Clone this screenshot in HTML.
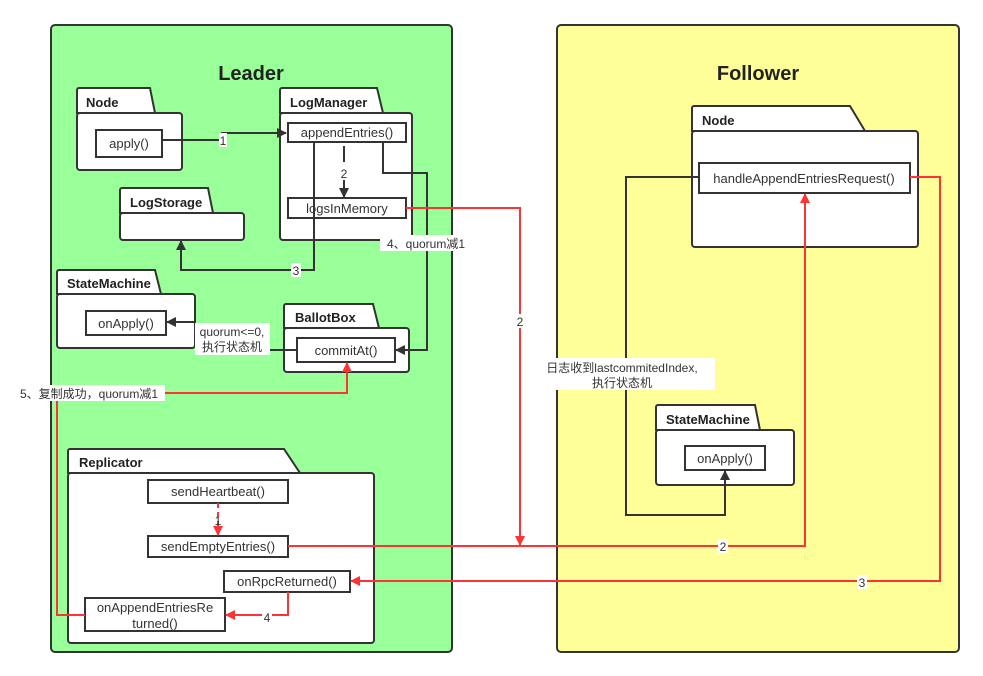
<!DOCTYPE html>
<html><head><meta charset="utf-8"><style>
html,body{margin:0;padding:0;background:#fff;}
svg{display:block;font-family:"Liberation Sans","Noto Sans CJK SC",sans-serif;}
</style></head><body>
<svg width="983" height="676" viewBox="0 0 983 676" xmlns="http://www.w3.org/2000/svg">
<defs>
<marker id="ab" markerWidth="10" markerHeight="10" refX="9" refY="5" orient="auto" markerUnits="userSpaceOnUse"><path d="M0,0 L10,5 L0,10 z" fill="#333"/></marker>
<marker id="ar" markerWidth="10" markerHeight="10" refX="9" refY="5" orient="auto" markerUnits="userSpaceOnUse"><path d="M0,0 L10,5 L0,10 z" fill="#ff3333"/></marker>
</defs>
<rect x="51" y="25" width="401" height="627" rx="4" fill="#99ff99" stroke="#333" stroke-width="2"/>
<rect x="557" y="25" width="402" height="627" rx="4" fill="#ffff99" stroke="#333" stroke-width="2"/>
<text x="251" y="80" font-size="20" font-weight="bold" fill="#222" text-anchor="middle">Leader</text>
<text x="758" y="80" font-size="20" font-weight="bold" fill="#222" text-anchor="middle">Follower</text>

<g fill="#fff" stroke="#333" stroke-width="2">
<!-- Node -->
<path d="M77,113 V90 a2,2 0 0 1 2,-2 H150 L155,113 Z"/><rect x="77" y="113" width="105" height="57" rx="3"/>
<!-- LogManager -->
<path d="M280,113 V90 a2,2 0 0 1 2,-2 H377 L383,113 Z"/><rect x="280" y="113" width="132" height="127" rx="3"/>
<!-- LogStorage -->
<path d="M120,213 V190 a2,2 0 0 1 2,-2 H208 L213,213 Z"/><rect x="120" y="213" width="124" height="27" rx="3"/>
<!-- StateMachine -->
<path d="M57,294 V272 a2,2 0 0 1 2,-2 H155 L161,294 Z"/><rect x="57" y="294" width="138" height="54" rx="3"/>
<!-- BallotBox -->
<path d="M284,328 V306 a2,2 0 0 1 2,-2 H373 L379,328 Z"/><rect x="284" y="328" width="125" height="44" rx="3"/>
<!-- Replicator -->
<path d="M68,473 V451 a2,2 0 0 1 2,-2 H284 L300,473 Z"/><rect x="68" y="473" width="306" height="170" rx="3"/>
<!-- Follower Node -->
<path d="M692,131 V108 a2,2 0 0 1 2,-2 H850 L865,131 Z"/><rect x="692" y="131" width="226" height="116" rx="3"/>
<!-- Follower SM -->
<path d="M656,430 V407 a2,2 0 0 1 2,-2 H755 L760,430 Z"/><rect x="656" y="430" width="138" height="55" rx="3"/>
<!-- method boxes -->
<rect x="96" y="130" width="66" height="27"/>
<rect x="288" y="123" width="118" height="19"/>
<rect x="288" y="198" width="118" height="20"/>
<rect x="86" y="311" width="80" height="24"/>
<rect x="297" y="338" width="98" height="24"/>
<rect x="148" y="480" width="140" height="23"/>
<rect x="148" y="536" width="140" height="21"/>
<rect x="224" y="571" width="126" height="21"/>
<rect x="85" y="598" width="140" height="33"/>
<rect x="699" y="163" width="211" height="30"/>
<rect x="685" y="446" width="80" height="24"/>
</g>

<g font-size="13" font-weight="bold" fill="#222">
<text x="86" y="107">Node</text>
<text x="290" y="107">LogManager</text>
<text x="130" y="207">LogStorage</text>
<text x="67" y="288">StateMachine</text>
<text x="295" y="322">BallotBox</text>
<text x="79" y="467">Replicator</text>
<text x="702" y="125">Node</text>
<text x="666" y="424">StateMachine</text>
</g>
<g font-size="13" fill="#333" text-anchor="middle">
<text x="129" y="148">apply()</text>
<text x="347" y="137">appendEntries()</text>
<text x="347" y="213">logsInMemory</text>
<text x="126" y="328">onApply()</text>
<text x="346" y="355">commitAt()</text>
<text x="218" y="496">sendHeartbeat()</text>
<text x="218" y="551">sendEmptyEntries()</text>
<text x="287" y="586">onRpcReturned()</text>
<text x="155" y="612">onAppendEntriesRe</text>
<text x="155" y="628">turned()</text>
<text x="804" y="183">handleAppendEntriesRequest()</text>
<text x="725" y="463">onApply()</text>
</g>

<!-- black connectors -->
<g fill="none" stroke="#333" stroke-width="2">
<polyline points="162,140 222,140 222,133 286,133" marker-end="url(#ab)"/>
<polyline points="344,146 344,162"/>
<polyline points="344,180 344,197" marker-end="url(#ab)"/>
<polyline points="314,143 314,270 181,270 181,241" marker-end="url(#ab)"/>
<polyline points="383,143 383,173 427,173 427,350 396,350" marker-end="url(#ab)"/>
<polyline points="297,350 265,350"/>
<polyline points="196,322 167,322" marker-end="url(#ab)"/>
<polyline points="699,177 626,177 626,515 725,515 725,471" marker-end="url(#ab)"/>
</g>
<!-- red connectors -->
<g fill="none" stroke="#ff3333" stroke-width="2">
<polyline points="406,208 520,208 520,545" marker-end="url(#ar)"/>
<polyline points="288,546 805,546 805,194" marker-end="url(#ar)"/>
<polyline points="910,177 940,177 940,581 351,581" marker-end="url(#ar)"/>
<polyline points="288,592 288,615 226,615" marker-end="url(#ar)"/>
<polyline points="85,615 57,615 57,393 347,393 347,363" marker-end="url(#ar)"/>
<polyline points="218,503 218,535" stroke-dasharray="5,4" marker-end="url(#ar)"/>
</g>

<!-- labels with white bg -->
<g fill="#fff">
<rect x="219" y="133" width="8" height="14"/>
<rect x="340" y="166" width="9" height="14"/>
<rect x="291" y="263" width="10" height="14"/>
<rect x="380" y="235" width="92" height="16"/>
<rect x="195" y="323" width="75" height="32"/>
<rect x="515" y="314" width="10" height="14"/>
<rect x="718" y="539" width="10" height="14"/>
<rect x="857" y="575" width="10" height="14"/>
<rect x="262" y="610" width="10" height="14"/>
<rect x="13" y="385" width="152" height="16"/>
<rect x="537" y="358" width="178" height="32"/>
</g>
<g font-size="12" fill="#333" text-anchor="middle">
<text x="223" y="145">1</text>
<text x="344" y="178">2</text>
<text x="296" y="275">3</text>
<text x="426" y="248">4、quorum减1</text>
<text x="232" y="336">quorum&lt;=0,</text>
<text x="232" y="351">执行状态机</text>
<text x="520" y="326">2</text>
<text x="723" y="551">2</text>
<text x="862" y="587">3</text>
<text x="267" y="622">4</text>
<text x="218" y="525">1</text>
<text x="89" y="398">5、复制成功，quorum减1</text>
<text x="622" y="372">日志收到lastcommitedIndex,</text>
<text x="622" y="387">执行状态机</text>
</g>
</svg>
</body></html>
